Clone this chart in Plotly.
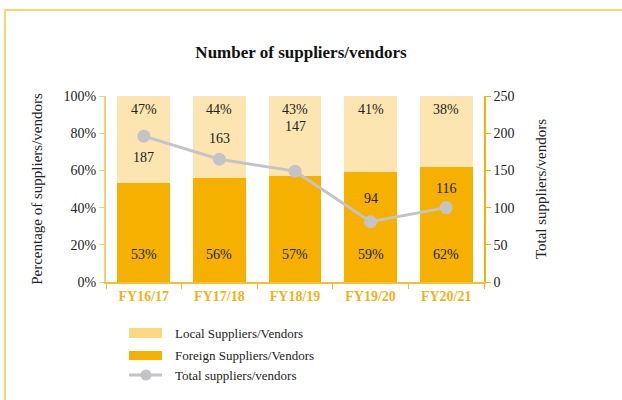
import plotly.graph_objects as go

categories = ["FY16/17", "FY17/18", "FY18/19", "FY19/20", "FY20/21"]
foreign_pct = [53, 56, 57, 59, 62]
local_pct = [47, 44, 43, 41, 38]
total_labels = [187, 163, 147, 94, 116]
# total as drawn on the secondary axis in the reference
total_plotted = [196, 165, 149, 81, 100]

pct_ticks = [0, 20, 40, 60, 80, 100]
total_ticks = [0, 50, 100, 150, 200, 250]

legend_names = ["Local Suppliers/Vendors", "Foreign Suppliers/Vendors", "Total suppliers/vendors"]

FONT = "Liberation Serif"
ORANGE = "#F5B000"
LIGHT = "#FCE5B0"
LEG_LIGHT = "#FBD983"
AXIS_L = "#F9D070"
AXIS_R = "#F5B300"
GREY = "#C4C4C8"
TXT = "#222222"

fig = go.Figure()
fig.add_trace(go.Bar(
    x=categories, y=[v / 100 for v in foreign_pct], name=legend_names[1],
    marker=dict(color=ORANGE, line=dict(width=0)), hoverinfo="skip", showlegend=False,
))
fig.add_trace(go.Bar(
    x=categories, y=[v / 100 for v in local_pct], name=legend_names[0],
    marker=dict(color=LIGHT, line=dict(width=0)), hoverinfo="skip", showlegend=False,
))
fig.add_trace(go.Scatter(
    x=categories, y=total_plotted, yaxis="y2", name=legend_names[2],
    mode="lines+markers", line=dict(color=GREY, width=3),
    marker=dict(color=GREY, size=13), hoverinfo="skip", showlegend=False,
))

annotations = []
for c, f, l in zip(categories, foreign_pct, local_pct):
    annotations.append(dict(x=c, y=0, xref="x", yref="y", text=f"{f}%", showarrow=False,
                            yshift=28, font=dict(family=FONT, size=14, color=TXT)))
    annotations.append(dict(x=c, y=1, xref="x", yref="y", text=f"{l}%", showarrow=False,
                            yshift=-13, font=dict(family=FONT, size=14, color=TXT)))
label_shift = [-21, 21, 45, 23, 19]
for c, t, p, s in zip(categories, total_labels, total_plotted, label_shift):
    annotations.append(dict(x=c, y=p, xref="x", yref="y2", text=str(t), showarrow=False,
                            yshift=s, font=dict(family=FONT, size=14, color=TXT)))

# custom legend (paper coordinates: plot area x 106..484 px, y 96..282 px)
def px_x(p):
    return (p - 106) / 378

def px_y(p):
    return (282 - p) / 186

shapes = [dict(type="rect", xref="paper", yref="paper", x0=px_x(5), x1=1.6,
               y0=-1.0, y1=px_y(10), line=dict(color="#FDD672", width=2),
               fillcolor="rgba(0,0,0,0)", layer="below")]
leg_rows = [333, 355, 375]
shapes.append(dict(type="rect", xref="paper", yref="paper", x0=px_x(129), x1=px_x(162),
                   y0=px_y(leg_rows[0] + 5), y1=px_y(leg_rows[0] - 5),
                   fillcolor=LEG_LIGHT, line=dict(width=0)))
shapes.append(dict(type="rect", xref="paper", yref="paper", x0=px_x(129), x1=px_x(162),
                   y0=px_y(leg_rows[1] + 5), y1=px_y(leg_rows[1] - 4),
                   fillcolor=ORANGE, line=dict(width=0)))
shapes.append(dict(type="line", xref="paper", yref="paper", x0=px_x(129), x1=px_x(162),
                   y0=px_y(leg_rows[2]), y1=px_y(leg_rows[2]), line=dict(color=GREY, width=3)))
shapes.append(dict(type="circle", xref="paper", yref="paper", x0=px_x(140.5), x1=px_x(151.5),
                   y0=px_y(leg_rows[2] + 5.5), y1=px_y(leg_rows[2] - 5.5),
                   fillcolor=GREY, line=dict(width=0)))
for name, row in zip(legend_names, leg_rows):
    annotations.append(dict(x=px_x(173), y=px_y(row), xref="paper", yref="paper",
                            xanchor="left", yanchor="middle", text=name, showarrow=False,
                            font=dict(family=FONT, size=13, color=TXT)))

fig.update_layout(
    width=622, height=400,
    margin=dict(l=106, r=138, t=96, b=118),
    paper_bgcolor="white", plot_bgcolor="white",
    barmode="stack", bargap=0.3,
    font=dict(family=FONT, size=14, color=TXT),
    showlegend=False,
    title=dict(text="<b>Number of suppliers/vendors</b>", xref="paper", x=px_x(301),
               xanchor="center", yref="container", y=1 - 52 / 400, yanchor="middle",
               font=dict(family=FONT, size=17, color="#111111")),
    xaxis=dict(showline=True, linecolor="#F3BE3A", linewidth=1.5, ticks="outside",
               tickson="boundaries", ticklen=5, tickcolor="#F3BE3A", showgrid=False,
               tickfont=dict(family=FONT, size=14, color="#F2B21A", weight="bold")),
    yaxis=dict(range=[0, 1], tickvals=[v / 100 for v in pct_ticks],
               ticktext=[f"{v}%" for v in pct_ticks], showline=True, linecolor=AXIS_L,
               linewidth=2, ticks="outside", ticklen=5, tickcolor=AXIS_L, showgrid=False,
               zeroline=False, tickfont=dict(family=FONT, size=14, color=TXT),
               title=dict(text="Percentage of suppliers/vendors", standoff=17,
                          font=dict(family=FONT, size=15, color=TXT))),
    yaxis2=dict(range=[0, 250], tickvals=total_ticks, overlaying="y", side="right",
                showline=True, linecolor=AXIS_R, linewidth=1.5, ticks="outside", ticklen=5,
                tickcolor=AXIS_R, showgrid=False, zeroline=False,
                tickfont=dict(family=FONT, size=14, color=TXT),
                title=dict(text="Total suppliers/vendors", standoff=22,
                           font=dict(family=FONT, size=15, color=TXT))),
    annotations=annotations,
    shapes=shapes,
)

fig.write_html("out.html", config={"displayModeBar": False},
               post_script="document.body.style.margin='0';")
